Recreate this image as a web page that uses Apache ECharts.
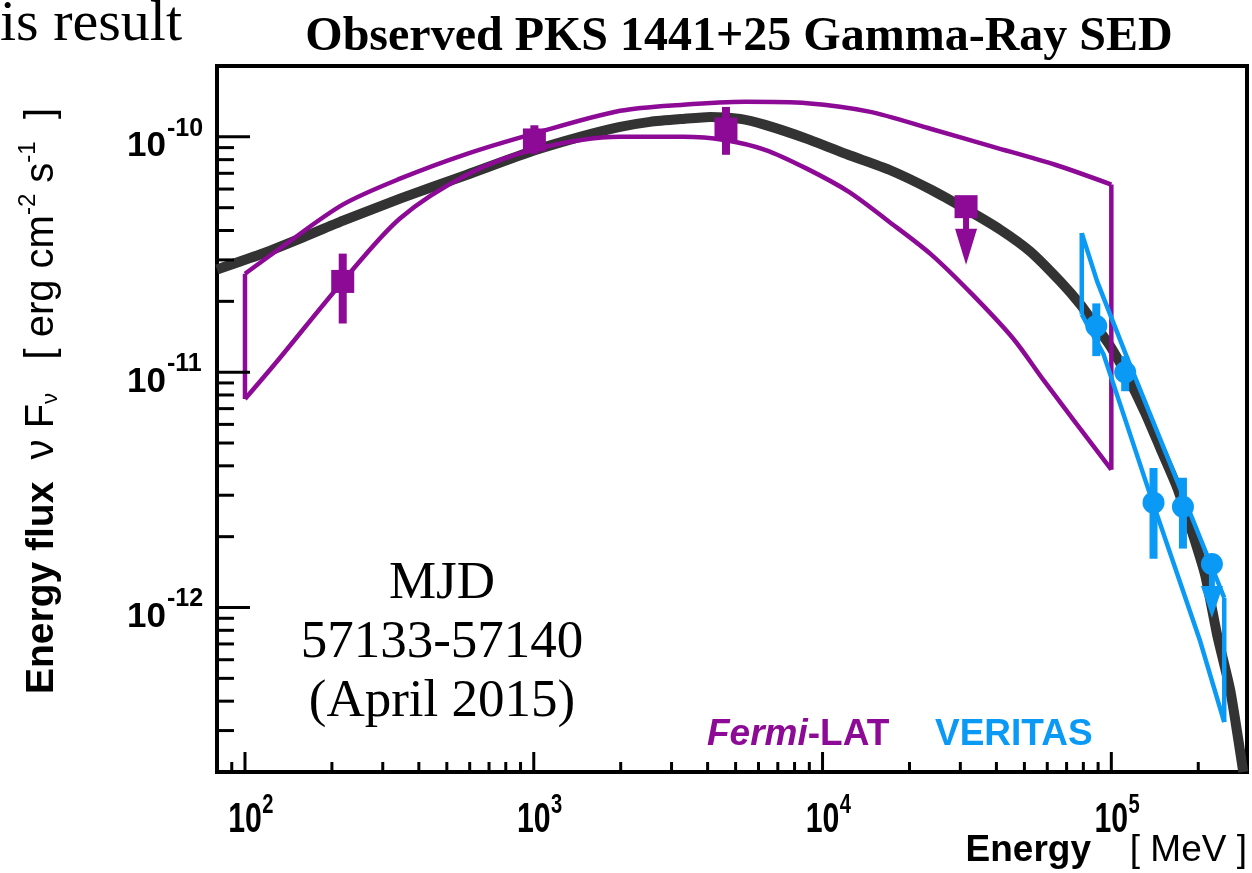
<!DOCTYPE html>
<html><head><meta charset="utf-8">
<script src="https://cdn.jsdelivr.net/npm/echarts@6/dist/echarts.min.js"></script>
<style>html,body{margin:0;padding:0;background:#fff}#c{width:1252px;height:873px}</style>
</head><body><div id="c"></div>
<script>
// ---------------- data ----------------
const xRange = [80, 2.95e5];
const yRange = [2e-13, 2e-10];
const tickMantissas = [1, 2, 3, 4, 5, 6, 7, 8, 9];
const xDecades = [1, 2, 3, 4, 5];
const yDecades = [-13, -12, -11, -10];
const xLabelValues = [1e2, 1e3, 1e4, 1e5];
const yLabelValues = [1e-12, 1e-11, 1e-10];

// model curve (black)
const modelE = [80, 112.7, 155.1, 218.6, 344.3, 448, 587.5, 994.5, 1447, 1990, 2528, 3290, 4081, 5183, 6327, 8844, 12270, 17010, 23780, 31190, 41230, 52380, 66530, 78050, 88660, 99130, 113500, 131100, 147700, 169200, 192200, 211500, 232700, 258100, 286300];
const modelF = [2.732e-11, 3.162e-11, 3.697e-11, 4.405e-11, 5.461e-11, 6.139e-11, 6.902e-11, 8.724e-11, 1.0e-10, 1.102e-10, 1.158e-10, 1.192e-10, 1.215e-10, 1.192e-10, 1.124e-10, 9.806e-11, 8.389e-11, 7.248e-11, 5.963e-11, 4.953e-11, 4.036e-11, 3.257e-11, 2.43e-11, 1.941e-11, 1.566e-11, 1.289e-11, 9.618e-12, 6.703e-12, 4.764e-12, 3.224e-12, 2.019e-12, 1.367e-12, 7.61e-13, 4.448e-13, 2.0e-13];

// Fermi-LAT butterfly
const fermiUpE = [100, 135, 218, 344, 587, 995, 1991, 3290, 5400, 8850, 1.45e4, 2.38e4, 3.90e4, 6.39e4, 1e5];
const fermiUpF = [2.62e-11, 3.42e-11, 5.15e-11, 6.64e-11, 8.47e-11, 1.03e-10, 1.29e-10, 1.37e-10, 1.41e-10, 1.39e-10, 1.28e-10, 1.08e-10, 9.07e-11, 7.61e-11, 6.27e-11];
const fermiLoE = [100, 129, 218, 344, 587, 995, 1991, 3290, 4560, 6320, 8850, 1.23e4, 1.70e4, 2.38e4, 3.30e4, 4.57e4, 5.86e4, 1e5];
const fermiLoF = [7.69e-12, 1.11e-11, 2.43e-11, 4.50e-11, 6.90e-11, 8.81e-11, 1.0e-10, 1.0e-10, 9.7e-11, 8.81e-11, 7.31e-11, 5.85e-11, 4.36e-11, 3.16e-11, 2.14e-11, 1.39e-11, 9.16e-12, 3.85e-12];

// Fermi-LAT points
const fermiE  = [218, 1005, 4630];
const fermiF  = [2.43e-11, 9.7e-11, 1.08e-10];
const fermiLo = [1.61e-11, 8.47e-11, 8.39e-11];
const fermiHi = [3.19e-11, 1.12e-10, 1.34e-10];
const fermiUlE = [3.14e4];
const fermiUlF = [5.05e-11];

// VERITAS butterfly
const verUpE = [7.9e4, 8.93e4, 1.135e5, 1.69e5, 2.46e5];
const verUpF = [3.9e-11, 2.43e-11, 1.15e-11, 3.45e-12, 1.1e-12];
const verLoE = [7.9e4, 9.4e4, 1.36e5, 2.03e5, 2.46e5];
const verLoF = [1.76e-11, 1.19e-11, 3.04e-12, 7.2e-13, 3.26e-13];

// VERITAS points
const verE  = [8.87e4, 1.117e5, 1.40e5, 1.77e5];
const verF  = [1.57e-11, 1.0e-11, 2.79e-12, 2.68e-12];
const verLo = [1.17e-11, 8.3e-12, 1.61e-12, 1.78e-12];
const verHi = [1.96e-11, 1.17e-11, 3.92e-12, 3.56e-12];
const verUlE = [2.23e5];
const verUlF = [1.53e-12];

// ---------------- chart ----------------
const purple = '#8c0a96', blue = '#0a9af5', dark = '#333333';
const SANS = '"Liberation Sans", Arial, Helvetica, sans-serif';
const SERIF = '"Liberation Serif", "Times New Roman", serif';

const pairs = (E, F) => E.map((e, i) => [e, F[i]]);
const lineSeries = (data, color, width, smooth, z) => ({
  type: 'line', data, showSymbol: false, symbol: 'none', smooth: smooth, z: z,
  lineStyle: { color, width, cap: 'butt', join: 'round' }, silent: true, animation: false
});

function ticks(decades, range) {
  const out = [];
  decades.forEach(k => tickMantissas.forEach(m => {
    const v = m * Math.pow(10, k);
    if (v > range[0] * 1.0001 && v < range[1] * 0.9999) out.push([v, m === 1 ? 1 : 0]);
  }));
  return out;
}
const xTicks = ticks(xDecades, xRange).map(t => [t[0], yRange[0], t[1]]);
const yTicks = ticks(yDecades, yRange).map(t => [xRange[0], t[0], t[1]]);

function errorBars(E, lo, hi, color) {
  return {
    type: 'custom', z: 5, animation: false, silent: true,
    data: E.map((e, i) => [e, lo[i], hi[i]]), encode: { x: 0, y: [1, 2] },
    renderItem: (p, api) => {
      const e = api.value(0);
      const a = api.coord([e, api.value(2)]), b = api.coord([e, api.value(1)]);
      return { type: 'rect', shape: { x: a[0] - 4, y: a[1], width: 8, height: b[1] - a[1] }, style: { fill: color } };
    }
  };
}
function upperLimits(E, F, color, stem, tip) {
  return {
    type: 'custom', z: 5, animation: false, silent: true,
    data: pairs(E, F), encode: { x: 0, y: 1 },
    renderItem: (p, api) => {
      const c = api.coord([api.value(0), api.value(1)]);
      return { type: 'group', children: [
        { type: 'rect', shape: { x: c[0] - 3, y: c[1], width: 6, height: stem + 1 }, style: { fill: color } },
        { type: 'polygon', shape: { points: [[c[0] - 11, c[1] + stem], [c[0] + 11, c[1] + stem], [c[0], c[1] + tip]] }, style: { fill: color } }
      ] };
    }
  };
}

const option = {
  animation: false,
  backgroundColor: '#ffffff',
  grid: { left: 217, right: 5, top: 66, bottom: 101, show: true, borderColor: '#000', borderWidth: 4, backgroundColor: 'transparent' },
  xAxis: {
    type: 'log', logBase: 10, min: xRange[0], max: xRange[1],
    axisLine: { show: false }, axisTick: { show: false }, splitLine: { show: false }, axisLabel: { show: false }
  },
  yAxis: {
    type: 'log', logBase: 10, min: yRange[0], max: yRange[1],
    axisLine: { show: false }, axisTick: { show: false }, splitLine: { show: false }, axisLabel: { show: false }
  },
  series: [
    lineSeries(pairs(modelE, modelF), dark, 10, 0.2, 2),
    lineSeries(pairs(fermiUpE, fermiUpF), purple, 4.5, 0.3, 3),
    lineSeries(pairs(fermiLoE, fermiLoF), purple, 4.5, 0.3, 3),
    lineSeries([[fermiUpE[0], fermiUpF[0]], [fermiLoE[0], fermiLoF[0]]], purple, 4.5, false, 3),
    lineSeries([[fermiUpE[fermiUpE.length - 1], fermiUpF[fermiUpF.length - 1]], [fermiLoE[fermiLoE.length - 1], fermiLoF[fermiLoF.length - 1]]], purple, 4.5, false, 3),
    lineSeries(pairs(verUpE, verUpF), blue, 4.5, false, 3),
    lineSeries(pairs(verLoE, verLoF), blue, 4.5, false, 3),
    lineSeries([[verUpE[0], verUpF[0]], [verLoE[0], verLoF[0]]], blue, 4.5, false, 3),
    lineSeries([[verUpE[verUpE.length - 1], verUpF[verUpF.length - 1]], [verLoE[verLoE.length - 1], verLoF[verLoF.length - 1]]], blue, 4.5, false, 3),
    errorBars(fermiE, fermiLo, fermiHi, purple),
    errorBars(verE, verLo, verHi, blue),
    upperLimits(fermiUlE, fermiUlF, purple, 22, 58),
    upperLimits(verUlE, verUlF, blue, 22, 54),
    { type: 'scatter', z: 6, silent: true, symbol: 'rect', symbolSize: 23, itemStyle: { color: purple, opacity: 1 }, data: pairs(fermiE.concat(fermiUlE), fermiF.concat(fermiUlF)) },
    { type: 'scatter', z: 6, silent: true, symbol: 'circle', symbolSize: 22, itemStyle: { color: blue, opacity: 1 }, data: pairs(verE.concat(verUlE), verF.concat(verUlF)) },
    // ticks
    { type: 'custom', z: 8, silent: true, data: xTicks, encode: { x: 0, y: 1 },
      renderItem: (p, api) => { const c = api.coord([api.value(0), api.value(1)]); const len = api.value(2) ? 20 : 10;
        return { type: 'line', shape: { x1: c[0], y1: c[1], x2: c[0], y2: c[1] - len }, style: { stroke: '#000', lineWidth: 3 } }; } },
    { type: 'custom', z: 8, silent: true, data: yTicks, encode: { x: 0, y: 1 },
      renderItem: (p, api) => { const c = api.coord([api.value(0), api.value(1)]); const len = api.value(2) ? 33 : 17;
        return { type: 'line', shape: { x1: c[0], y1: c[1], x2: c[0] + len, y2: c[1] }, style: { stroke: '#000', lineWidth: 3 } }; } },
    // tick labels
    { type: 'custom', z: 8, silent: true, data: xLabelValues.map(v => [v, yRange[0]]), encode: { x: 0, y: 1 },
      renderItem: (p, api) => { const v = api.value(0); const c = api.coord([v, api.value(1)]); const k = Math.round(Math.log10(v));
        return { type: 'group', x: c[0], y: c[1], scaleX: 0.72, children: [
          { type: 'text', x: 0, y: 48, style: { text: '10', font: 'bold 42px ' + SANS, fill: '#000', textAlign: 'center', textVerticalAlign: 'middle' } },
          { type: 'text', x: 24, y: 33, style: { text: String(k), font: 'bold 28px ' + SANS, fill: '#000', textAlign: 'left', textVerticalAlign: 'middle' } }
        ] }; } },
    { type: 'custom', z: 8, silent: true, data: yLabelValues.map(v => [xRange[0], v]), encode: { x: 0, y: 1 },
      renderItem: (p, api) => { const v = api.value(1); const c = api.coord([api.value(0), v]); const k = Math.round(Math.log10(v));
        return { type: 'group', x: c[0], y: c[1], children: [
          { type: 'text', x: -51, y: 10, style: { text: '10', font: 'bold 35px ' + SANS, fill: '#000', textAlign: 'right', textVerticalAlign: 'middle' } },
          { type: 'text', x: -50, y: -8, style: { text: String(k), font: 'bold 25px ' + SANS, fill: '#000', textAlign: 'left', textVerticalAlign: 'middle' } }
        ] }; } }
  ],
  graphic: [
    { type: 'text', x: 0, y: 25, style: { text: 'is result', font: '58px ' + SERIF, fill: '#000', textAlign: 'left', textVerticalAlign: 'middle' } },
    { type: 'text', x: 739, y: 38, style: { text: 'Observed PKS 1441+25 Gamma-Ray SED', font: 'bold 48px ' + SERIF, fill: '#000', textAlign: 'center', textVerticalAlign: 'middle' } },
    { type: 'text', x: 442, y: 643, style: { text: 'MJD\n57133-57140\n(April 2015)', font: '53px ' + SERIF, lineHeight: 59, fill: '#000', textAlign: 'center', textVerticalAlign: 'middle' } },
    { type: 'text', x: 707, y: 735, style: { text: '{f|Fermi}{l|-LAT}', textAlign: 'left', textVerticalAlign: 'middle',
        rich: { f: { font: 'italic bold 37px ' + SANS, fill: purple }, l: { font: 'bold 37px ' + SANS, fill: purple } } } },
    { type: 'text', x: 935, y: 735, style: { text: 'VERITAS', font: 'bold 37px ' + SANS, fill: blue, textAlign: 'left', textVerticalAlign: 'middle' } },
    { type: 'text', x: 1091, y: 851, style: { text: 'Energy', font: 'bold 37px ' + SANS, fill: '#000', textAlign: 'right', textVerticalAlign: 'middle' } },
    { type: 'text', x: 1247, y: 851, style: { text: '[ MeV ]', font: '37px ' + SANS, fill: '#000', textAlign: 'right', textVerticalAlign: 'middle' } },
    { type: 'text', x: 39, y: 401, rotation: Math.PI / 2, style: {
        text: '{b|Energy flux}{n|  ν F}{sub|ν}{n|   [ erg cm}{sup|-2}{n| s}{sup|-1}{n|  ]}', textAlign: 'center', textVerticalAlign: 'middle',
        rich: {
          b: { font: 'bold 39px ' + SANS, fill: '#000', lineHeight: 46, verticalAlign: 'bottom' },
          n: { font: '40px ' + SANS, fill: '#000', lineHeight: 46, verticalAlign: 'bottom' },
          sub: { font: '22px ' + SANS, fill: '#000', lineHeight: 30, verticalAlign: 'bottom' },
          sup: { font: '24px ' + SANS, fill: '#000', lineHeight: 24, verticalAlign: 'top' }
        } } }
  ]
};
const chart = echarts.init(document.getElementById('c'), null, { renderer: 'canvas', width: 1252, height: 873 });
chart.setOption(option);
</script>
</body></html>
